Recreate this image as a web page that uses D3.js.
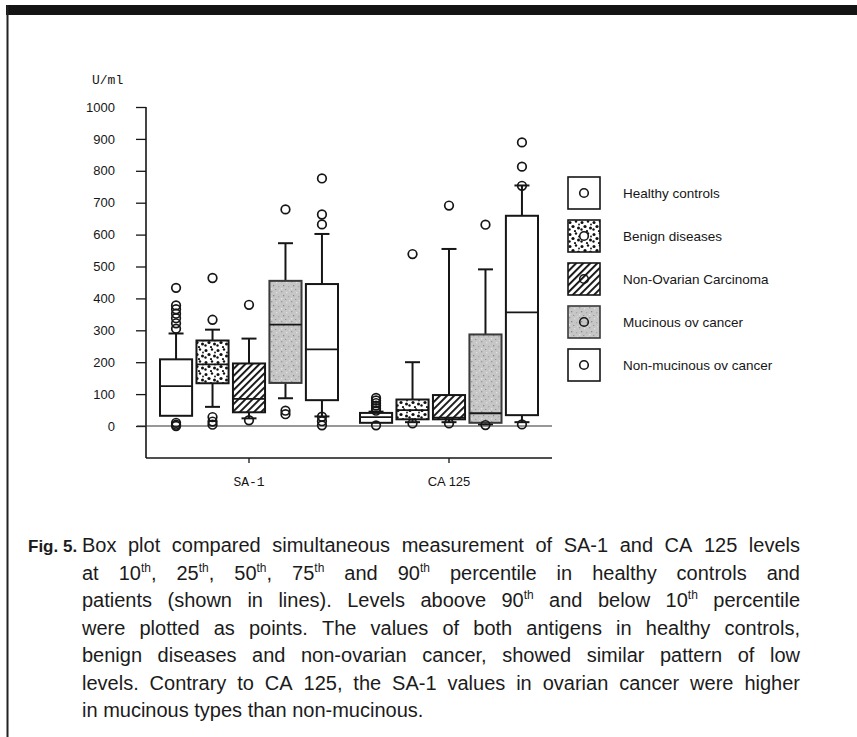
<!DOCTYPE html>
<html><head><meta charset="utf-8">
<script src="https://cdn.jsdelivr.net/npm/d3@7"></script>
<style>
html,body{margin:0;padding:0;background:#fff;}
svg{display:block;}
</style></head>
<body>
<svg id="chart" width="857" height="737"></svg>
<script>
// ---------------- DATA ----------------
const categories = ["SA-1", "CA 125"];
const groups = ["Healthy controls", "Benign diseases", "Non-Ovarian Carcinoma", "Mucinous ov cancer", "Non-mucinous ov cancer"];
const yTicks = [0, 100, 200, 300, 400, 500, 600, 700, 800, 900, 1000];
const yUnit = "U/ml";
// percentiles, indexed [category][group]
const p10Values    = [[32, 60, 24, 87, 30], [10, 12, 12, 5, 12]];
const q1Values     = [[32, 134, 43, 135, 81], [10, 21, 21, 10, 34]];
const medianValues = [[125, 193, 85, 318, 240], [28, 50, 26, 40, 356]];
const q3Values     = [[209, 268, 196, 455, 445], [41, 83, 97, 287, 659]];
const p90Values    = [[290, 302, 274, 573, 602], [45, 200, 555, 491, 754]];
const outlierValues = [
  [[305, 322, 338, 352, 366, 378, 433, 10, 4, 0], [333, 464, 28, 14, 4], [380, 18], [679, 48, 37], [632, 663, 776, 29, 15, 2]],
  [[48, 56, 64, 72, 80, 88, 2], [539, 8], [691, 8], [631, 3], [753, 813, 889, 5]]
];
const captionLabel = "Fig. 5.";
const captionLines = [
  "Box plot compared simultaneous measurement of SA-1 and CA 125 levels",
  "at 10{th}, 25{th}, 50{th}, 75{th} and 90{th} percentile in healthy controls and",
  "patients (shown in lines). Levels aboove 90{th} and below 10{th} percentile",
  "were plotted as points. The values of both antigens in healthy controls,",
  "benign diseases and non-ovarian cancer, showed similar pattern of low",
  "levels. Contrary to CA 125, the SA-1 values in ovarian cancer were higher",
  "in mucinous types than non-mucinous."
];

// ---------------- STYLE ----------------
const sans = "'Liberation Sans', Arial, Helvetica, sans-serif";
const mono = "'Liberation Mono', 'DejaVu Sans Mono', monospace";
const ink = "#161616";

const svg = d3.select("#chart");
const defs = svg.append("defs");

// stippled dots pattern (benign)
const pDots = defs.append("pattern").attr("id", "pDots").attr("patternUnits", "userSpaceOnUse")
  .attr("width", 12).attr("height", 12);
pDots.append("rect").attr("width", 12).attr("height", 12).attr("fill", "#fff");
[[2, 2.5, 1.5], [8, 1.5, 1.2], [5, 6.5, 1.6], [10.5, 8, 1.5], [1.5, 9.5, 1.2], [7, 11, 1.1], [11, 4.5, 0.9]].forEach(d =>
  pDots.append("circle").attr("cx", d[0]).attr("cy", d[1]).attr("r", d[2]).attr("fill", "#111"));

// hatch pattern (non-ovarian)
const pHatch = defs.append("pattern").attr("id", "pHatch").attr("patternUnits", "userSpaceOnUse")
  .attr("width", 5).attr("height", 5).attr("patternTransform", "rotate(45)");
pHatch.append("rect").attr("width", 5).attr("height", 5).attr("fill", "#fff");
pHatch.append("rect").attr("x", 0).attr("width", 1.9).attr("height", 5).attr("fill", "#111");

// grey mottled pattern (mucinous)
const pGrey = defs.append("pattern").attr("id", "pGrey").attr("patternUnits", "userSpaceOnUse")
  .attr("width", 10).attr("height", 10);
pGrey.append("rect").attr("width", 10).attr("height", 10).attr("fill", "#c6c6c6");
[[1, 1, "#9a9a9a"], [6, 2, "#e2e2e2"], [3, 5, "#8a8a8a"], [8, 6, "#a8a8a8"], [1, 8, "#e6e6e6"], [5, 9, "#959595"], [9, 0, "#dadada"]].forEach(d =>
  pGrey.append("rect").attr("x", d[0]).attr("y", d[1]).attr("width", 1.3).attr("height", 1.3).attr("fill", d[2]));

const groupFills = ["#fff", "url(#pDots)", "url(#pHatch)", "url(#pGrey)", "#fff"];
const groupStrokes = [ink, ink, ink, "#3a3a3a", ink];

// ---------------- FRAME ----------------
svg.append("rect").attr("x", 6).attr("y", 5).attr("width", 851).attr("height", 10).attr("fill", "#141414");
svg.append("line").attr("x1", 7.5).attr("x2", 7.5).attr("y1", 5).attr("y2", 737).attr("stroke", "#222").attr("stroke-width", 2);

// ---------------- SCALES ----------------
const y = d3.scaleLinear().domain([0, 1000]).range([426, 107]);
const x = d3.scaleBand().domain(categories).range([149, 549]);
const xInner = d3.scaleBand().domain(groups).range([-89, 89]).paddingInner(0.12);
const bw = xInner.bandwidth();

// ---------------- AXES ----------------
svg.append("text").attr("x", 92).attr("y", 84).attr("font-family", mono).attr("font-size", 13)
  .attr("fill", ink).text(yUnit);

const yAxis = svg.append("g").attr("transform", "translate(146,0)")
  .call(d3.axisLeft(y).tickValues(yTicks).tickSize(10).tickPadding(21).tickFormat(d3.format("d")));
yAxis.select(".domain").remove();
yAxis.selectAll("line").attr("stroke", ink).attr("stroke-width", 1.3);
yAxis.selectAll("text").attr("font-family", sans).attr("font-size", 13).attr("fill", ink);

svg.append("line").attr("x1", 146).attr("x2", 146).attr("y1", y(1000)).attr("y2", 458)
  .attr("stroke", ink).attr("stroke-width", 1.6);
svg.append("line").attr("x1", 146).attr("x2", 552).attr("y1", 458).attr("y2", 458)
  .attr("stroke", ink).attr("stroke-width", 1.5);
svg.append("line").attr("x1", 137).attr("x2", 552).attr("y1", y(0)).attr("y2", y(0))
  .attr("stroke", "#333").attr("stroke-width", 1.2);

const xAxis = svg.append("g").attr("transform", "translate(0,458)")
  .call(d3.axisBottom(x).tickSize(5));
xAxis.select(".domain").remove();
xAxis.selectAll("line").attr("stroke", ink).attr("stroke-width", 1.3);
xAxis.selectAll("text").attr("y", 28).attr("dy", 0).attr("fill", ink)
  .attr("font-family", d => d === "SA-1" ? mono : sans)
  .attr("font-size", 13);

// ---------------- BOXES ----------------
const boxes = categories.flatMap((c, ci) => groups.map((g, gi) => ({
  c, g, gi,
  p10: p10Values[ci][gi], q1: q1Values[ci][gi], med: medianValues[ci][gi],
  q3: q3Values[ci][gi], p90: p90Values[ci][gi], out: outlierValues[ci][gi]
})));
const cx = d => x(d.c) + x.bandwidth() / 2 + xInner(d.g) + bw / 2;
const capHalf = 7.5;

const bg = svg.append("g").selectAll("g").data(boxes).join("g");
// whiskers
bg.append("line").attr("x1", cx).attr("x2", cx).attr("y1", d => y(d.q3)).attr("y2", d => y(d.p90))
  .attr("stroke", ink).attr("stroke-width", 2);
bg.append("line").attr("x1", d => cx(d) - capHalf).attr("x2", d => cx(d) + capHalf)
  .attr("y1", d => y(d.p90)).attr("y2", d => y(d.p90)).attr("stroke", ink).attr("stroke-width", 2);
bg.filter(d => d.p10 < d.q1).append("line").attr("x1", cx).attr("x2", cx)
  .attr("y1", d => y(d.q1)).attr("y2", d => y(d.p10)).attr("stroke", ink).attr("stroke-width", 2);
bg.filter(d => d.p10 < d.q1).append("line").attr("x1", d => cx(d) - capHalf).attr("x2", d => cx(d) + capHalf)
  .attr("y1", d => y(d.p10)).attr("y2", d => y(d.p10)).attr("stroke", ink).attr("stroke-width", 2);
// box
bg.append("rect").attr("x", d => cx(d) - bw / 2).attr("width", bw)
  .attr("y", d => y(d.q3)).attr("height", d => y(d.q1) - y(d.q3))
  .attr("fill", d => groupFills[d.gi]).attr("stroke", d => groupStrokes[d.gi]).attr("stroke-width", 2);
// median
bg.append("line").attr("x1", d => cx(d) - bw / 2).attr("x2", d => cx(d) + bw / 2)
  .attr("y1", d => y(d.med)).attr("y2", d => y(d.med)).attr("stroke", ink).attr("stroke-width", 1.8);
// outliers
bg.selectAll("circle").data(d => d.out.map(v => ({ v, d }))).join("circle")
  .attr("cx", o => cx(o.d)).attr("cy", o => y(o.v)).attr("r", 4.3)
  .attr("fill", "none").attr("stroke", ink).attr("stroke-width", 1.7);

// ---------------- LEGEND ----------------
const lg = svg.append("g").selectAll("g").data(groups).join("g")
  .attr("transform", (d, i) => `translate(568,${177 + i * 43})`);
lg.append("rect").attr("width", 32).attr("height", 32)
  .attr("fill", (d, i) => groupFills[i]).attr("stroke", (d, i) => groupStrokes[i]).attr("stroke-width", 1.6);
lg.append("circle").attr("cx", 16).attr("cy", 16).attr("r", 4.3)
  .attr("fill", (d, i) => i === 1 ? "#fff" : "none").attr("stroke", ink).attr("stroke-width", 1.6);
lg.append("text").attr("x", 55).attr("y", 16).attr("dy", "0.35em")
  .attr("font-family", sans).attr("font-size", 13.5).attr("fill", ink).text(d => d);

// ---------------- CAPTION ----------------
const capX0 = 82, capX1 = 800, capY0 = 552, capDy = 27.5, capSize = 20;
svg.append("text").attr("x", 28).attr("y", capY0).attr("font-family", sans).attr("font-size", 17)
  .attr("font-weight", "bold").attr("fill", "#1b1b1b").text(captionLabel);

captionLines.forEach((line, i) => {
  const yy = capY0 + i * capDy;
  const words = line.split(" ");
  const nodes = words.map(w => {
    const t = svg.append("text").attr("y", yy).attr("font-family", sans).attr("font-size", capSize).attr("fill", "#1b1b1b");
    const parts = w.split(/\{(\w+)\}/);
    let prevSup = false;
    parts.forEach((p, k) => {
      if (!p) return;
      const sup = k % 2 === 1;
      const ts = t.append("tspan").text(p);
      if (sup) { ts.attr("font-size", 12).attr("dy", -8); prevSup = true; }
      else if (prevSup) { ts.attr("dy", 8); prevSup = false; }
    });
    return t;
  });
  const widths = nodes.map(t => t.node().getComputedTextLength());
  const total = d3.sum(widths);
  const last = i === captionLines.length - 1;
  const gap = last ? capSize * 0.278 : (capX1 - capX0 - total) / (words.length - 1);
  let xx = capX0;
  nodes.forEach((t, k) => { t.attr("x", xx); xx += widths[k] + gap; });
});
</script>
</body></html>
